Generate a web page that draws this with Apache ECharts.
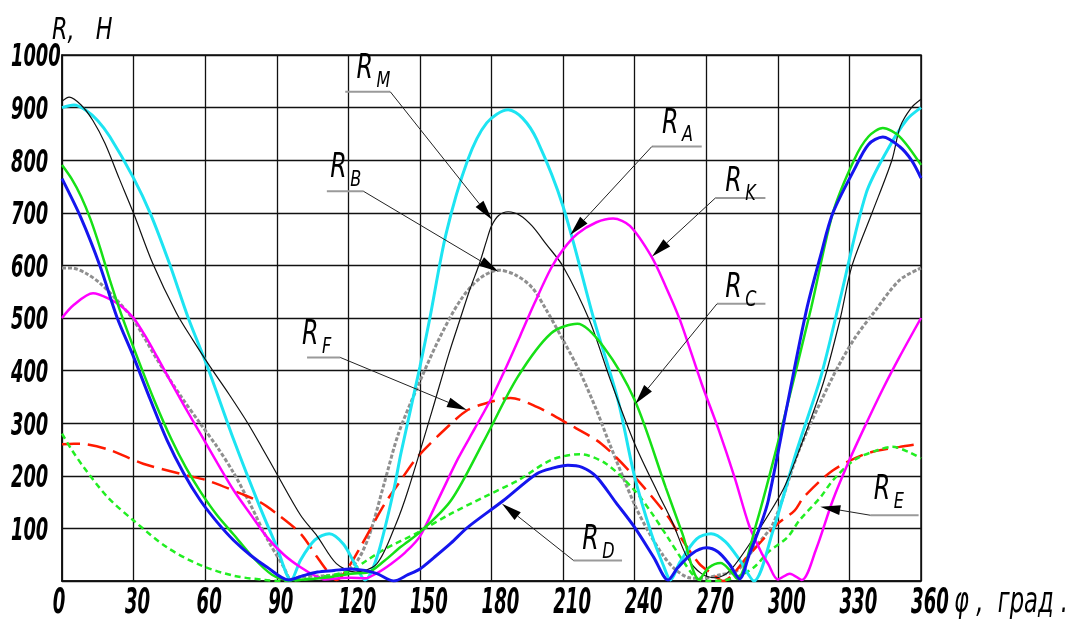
<!DOCTYPE html>
<html>
<head>
<meta charset="utf-8">
<script src="https://cdn.jsdelivr.net/npm/echarts@6/dist/echarts.min.js"></script>
<style>
html,body{margin:0;padding:0;background:#fff;}
#c{width:1075px;height:623px;}
</style>
</head>
<body>
<div id="c"></div>
<script>
// ---- data: [angle φ (deg), R (N)] ----
const RM = [[0,912],[3,920],[8,905],[13,875],[18,832],[24,765],[30,699],[38,604],[48,509],[55,457],[62,408],[70,355],[78,299],[84,252],[90,204],[100,125],[107,85],[115,33],[123,17],[132,33],[140,109],[145,172],[155,322],[162,430],[167,500],[171,555],[175,604],[178,648],[180,675],[183,695],[187,702],[192,695],[197,675],[203,640],[210,598],[221,496],[230,380],[240,261],[250,165],[256,110],[262,45],[268,14],[274,6],[280,20],[290,83],[302,172],[309,249],[319,376],[326,496],[331,598],[339.5,700],[347.8,800],[351.3,864],[356,900],[360,916]];
const RA = [[0,900],[5,905],[10,895],[15,875],[20,845],[30,766],[37,699],[45,604],[53,499],[61,407],[72,268],[83,140],[90,65],[96,2],[100,40],[106,78],[112,90],[118,70],[123,30],[127,2],[132,45],[139,172],[142,242],[150,407],[154,496],[161,661],[170,800],[178,871],[187,896],[193,880],[199,839],[210,712],[223,496],[233,344],[240,198],[247,90],[252,30],[255,2],[259,36],[266,80],[272,90],[278,75],[284,40],[290,0],[298,96],[308,249],[318,388],[326,534],[337,737],[346,820],[354,877],[360,900]];
const RB = [[0,595],[4,595],[10,585],[16,566],[23,534],[30,496],[40,420],[50,350],[58,299],[65,255],[72,205],[79,145],[86,80],[93,26],[96,3],[100,8],[110,10],[118,15],[124,40],[129,90],[135,185],[141,280],[149,369],[158,460],[167,534],[175,575],[183,591],[190,582],[197,558],[203,515],[210,458],[217,398],[224,325],[230,255],[240,145],[246,92],[252,48],[257,22],[263,6],[268,5],[276,12],[283,20],[290,62],[298,109],[309,250],[323,388],[332,460],[340,509],[351,572],[360,595]];
const RK = [[0,500],[5,525],[13,547],[20,536],[25,522],[30,500],[35,465],[40,425],[44,392],[51,335],[58,280],[65,225],[72,172],[79,127],[86,83],[93,50],[100,26],[106,10],[110,3],[116,5],[121,6],[127,5],[132,15],[138,33],[144,55],[150,85],[158,158],[166,233],[173,290],[180,348],[186,405],[192,466],[198,528],[205,595],[210,630],[216,660],[224,682],[231,689],[238,675],[247,617],[253,560],[259,496],[268,376],[275,290],[282,195],[288,105],[293,55],[296,32],[300,3],[305,14],[310,2],[316,60],[323,153],[330,230],[337,299],[344,365],[351,426],[360,500]];
const RC = [[0,791],[4,765],[8,731],[12,687],[16,633],[20,573],[25,505],[32,420],[39,340],[46,268],[52,215],[58,170],[65,125],[72,88],[80,45],[88,12],[95,2],[105,4],[112,7],[121,14],[128,16],[135,38],[142,65],[150,93],[163,153],[177,268],[191,388],[205,471],[216,489],[227,445],[240,344],[253,178],[260,90],[267,3],[271,25],[276,34],[280,20],[283,4],[291,109],[301,280],[314,520],[323,699],[332,801],[338,845],[344,861],[351,845],[360,791]];
const RF = [[0,260],[5,261],[10,260],[20,249],[34,223],[52,201],[61,191],[75,166],[83,150],[90,128],[100,90],[107,45],[111,20],[115,2],[120,26],[125,64],[130,105],[135,145],[141,185],[149,236],[163,299],[170,325],[177,337],[188,348],[199,331],[212,299],[226,261],[240,198],[254,122],[259,85],[267,33],[273,12],[277,0],[287,45],[300,109],[307,134],[311,160],[323,210],[337,242],[351,255],[360,261]];
const RD = [[0,765],[8,690],[16,598],[23,502],[30,426],[37,345],[44,268],[51,205],[58,153],[65,112],[72,77],[79,49],[86,26],[95,2],[101,10],[107,17],[114,20],[121,23],[127,20],[132,14],[139,0],[145,12],[150,23],[156,45],[163,72],[170,102],[185,153],[199,204],[206,215],[212,220],[218,216],[224,198],[232,150],[240,102],[248,45],[254,2],[258,25],[264,52],[270,63],[275,55],[280,30],[284,4],[288,50],[293,109],[296,153],[304,336],[312,515],[318,620],[323,699],[332,782],[338,830],[344,844],[351,826],[356,800],[360,766]];
const RE = [[0,280],[4,250],[9,217],[19,160],[30,115],[44,64],[58,30],[72,10],[85,2],[92,0],[100,2],[107,7],[114,12],[121,20],[128,40],[135,60],[149,92],[163,128],[177,160],[191,191],[205,230],[217,241],[228,223],[240,172],[247,130],[254,82],[260,40],[266,5],[272,0],[278,2],[283,8],[290,26],[296,55],[304,83],[309,115],[318,160],[323,191],[332,230],[342,249],[348,255],[355,245],[360,233]];

const xTicks = [0,30,60,90,120,150,180,210,240,270,300,330,360];
const yTicks = [100,200,300,400,500,600,700,800,900,1000];
const xName = 'φ ,  град .';
const yName = 'R,   Н';

// annotations (label, subscript, text anchor, underline, knee end, arrow tip) in data coords
const notes = [
  {sub:'M', text:[123.4,949], line:[118.7,137.6,930], knee:'right', tip:[180.2,687]},
  {sub:'A', text:[251.5,845], line:[247.2,268.1,826], knee:'left',  tip:[213,658]},
  {sub:'B', text:[112.4,760], line:[111,126.3,741],   knee:'right', tip:[183,588]},
  {sub:'K', text:[278,734],   line:[273.8,294.8,728], knee:'left',  tip:[247.3,617]},
  {sub:'C', text:[278,532],   line:[274.5,294.8,527], knee:'left',  tip:[240.3,337]},
  {sub:'F', text:[100.6,443], line:[102.7,116.6,425], knee:'right', tip:[169.7,325]},
  {sub:'D', text:[218,54],    line:[214.4,234.7,39],  knee:'left',  tip:[184.4,147]},
  {sub:'E', text:[340.2,148], line:[338.8,359,125],   knee:'left',  tip:[317.8,141]}
];

const FONT = "'DejaVu Sans Condensed','DejaVu Sans',sans-serif";
const chart = echarts.init(document.getElementById('c'), null, {renderer:'canvas'});

function ser(name, data, color, width, type, z){
  return {name, type:'line', data, smooth:0.3, symbol:'none', z: z||2,
    lineStyle:{color, width, type: type||'solid'}};
}

chart.setOption({
  animation:false,
  backgroundColor:'#fff',
  grid:{left:62, right:154, top:55, bottom:42, show:true, borderColor:'#111', borderWidth:1.5, outerBoundsMode:'none', containLabel:false},
  xAxis:{type:'value', min:0, max:360, interval:30,
    axisLine:{show:true, lineStyle:{color:'#111', width:1.5}},
    axisTick:{show:false},
    splitLine:{show:true, lineStyle:{color:'#111', width:1.3}},
    axisLabel:{show:false}
  },
  yAxis:{type:'value', min:0, max:1000, interval:100,
    axisLine:{show:true, lineStyle:{color:'#111', width:1.5}},
    axisTick:{show:false},
    splitLine:{show:true, lineStyle:{color:'#111', width:1.3}},
    axisLabel:{show:false}
  },
  series:[
    ser('RB', RB, '#8f8f8f', 3, [4,2], 2),
    ser('RF', RF, '#ff1a00', 2.5, [18,8], 3),
    ser('RE', RE, '#22ee22', 2.5, [6,4], 3),
    ser('RM', RM, '#111111', 1.2, 'solid', 4),
    ser('RA', RA, '#1de4f2', 3, 'solid', 3),
    ser('RK', RK, '#ff00ff', 2.5, 'solid', 4),
    ser('RC', RC, '#16e016', 2.5, 'solid', 4),
    ser('RD', RD, '#1515ee', 3, 'solid', 5)
  ]
});

const P = p => chart.convertToPixel({gridIndex:0}, p);
const g = [];
function txt(x, y, s, size, align, vAlign, sx, w){
  g.push({type:'text', x, y, scaleX:sx, scaleY:1, z:30,
    style:{text:s, font:'italic '+(w||'normal')+' '+size+'px '+FONT, fill:'#000', align:align, verticalAlign:vAlign, textAlign:align, textVerticalAlign:vAlign}});
}
// tick labels placed through the axis scales
const y0 = P([0,0]);
yTicks.forEach(v => { const p = P([0,v]); txt(11, p[1]+3, String(v), 32, 'left', 'middle', 0.62, 'bold'); });
xTicks.forEach(v => { const p = P([v,0]); const dx = v === 0 ? -3 : (v < 120 ? 4 : 9); txt(p[0]+dx, y0[1]+23, String(v), 36, 'center', 'middle', 0.56, 'bold'); });
const xe = P([360,0]);
txt(xe[0]+33, y0[1]+22, xName, 36, 'left', 'middle', 0.7);
const yt = P([0,1000]);
txt(yt[0]-10, yt[1]-24, yName, 31, 'left', 'middle', 0.8);

// annotations
notes.forEach(n => {
  const t = P(n.text);
  const a = P([n.line[0], n.line[2]]);
  const b = P([n.line[1], n.line[2]]);
  const k = n.knee === 'left' ? a : b;
  const tip = P(n.tip);
  const dx = tip[0]-k[0], dy = tip[1]-k[1], L = Math.hypot(dx,dy);
  const ux = dx/L, uy = dy/L, al = 20, aw = 5;
  const bx = tip[0]-ux*al, by = tip[1]-uy*al;
  g.push({type:'line', shape:{x1:a[0],y1:a[1],x2:b[0],y2:b[1]}, style:{stroke:'#9a9a9a', lineWidth:2}, z:20});
  g.push({type:'line', shape:{x1:k[0],y1:k[1],x2:bx,y2:by}, style:{stroke:'#222', lineWidth:1}, z:20});
  g.push({type:'polygon', shape:{points:[[tip[0],tip[1]],[bx-uy*aw,by+ux*aw],[bx+uy*aw,by-ux*aw]]}, style:{fill:'#000'}, z:21});
  txt(t[0], t[1]+4, 'R', 33, 'left', 'bottom', 0.8);
  txt(t[0]+20, t[1]+10, n.sub, 21, 'left', 'bottom', 0.85);
});
chart.setOption({graphic: g});
</script>
</body>
</html>
